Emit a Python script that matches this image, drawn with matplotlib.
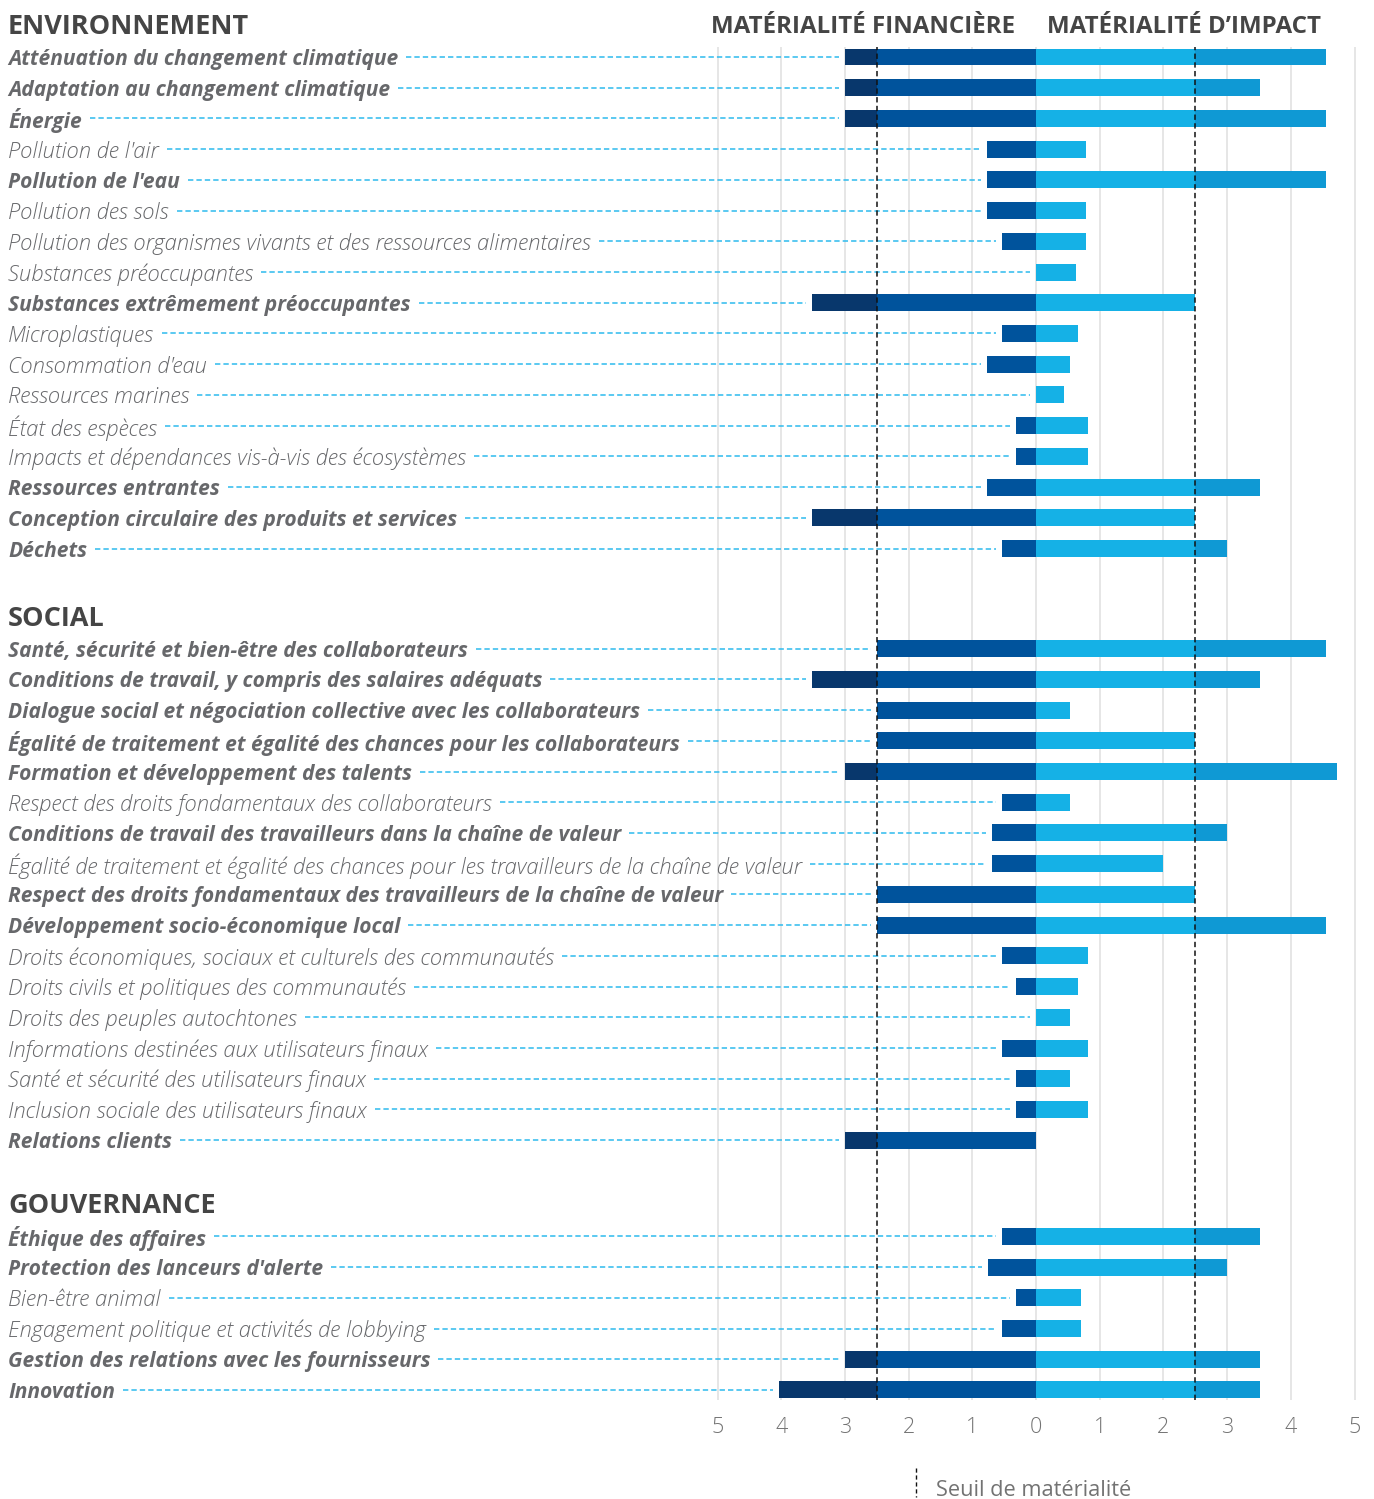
import matplotlib
matplotlib.use("Agg")
import matplotlib.pyplot as plt
from matplotlib import transforms

# ---------------- data ----------------
env_labels = [
    "Atténuation du changement climatique",
    "Adaptation au changement climatique",
    "Énergie",
    "Pollution de l'air",
    "Pollution de l'eau",
    "Pollution des sols",
    "Pollution des organismes vivants et des ressources alimentaires",
    "Substances préoccupantes",
    "Substances extrêmement préoccupantes",
    "Microplastiques",
    "Consommation d'eau",
    "Ressources marines",
    "État des espèces",
    "Impacts et dépendances vis-à-vis des écosystèmes",
    "Ressources entrantes",
    "Conception circulaire des produits et services",
    "Déchets",
]
env_fin = [3.0, 3.0, 3.0, 0.77, 0.77, 0.77, 0.53, 0.0, 3.52, 0.53, 0.77, 0.0, 0.31, 0.31, 0.77, 3.52, 0.53]
env_imp = [4.56, 3.52, 4.56, 0.78, 4.56, 0.78, 0.78, 0.63, 2.5, 0.66, 0.53, 0.44, 0.82, 0.82, 3.52, 2.5, 3.0]

soc_labels = [
    "Santé, sécurité et bien-être des collaborateurs",
    "Conditions de travail, y compris des salaires adéquats",
    "Dialogue social et négociation collective avec les collaborateurs",
    "Égalité de traitement et égalité des chances pour les collaborateurs",
    "Formation et développement des talents",
    "Respect des droits fondamentaux des collaborateurs",
    "Conditions de travail des travailleurs dans la chaîne de valeur",
    "Égalité de traitement et égalité des chances pour les travailleurs de la chaîne de valeur",
    "Respect des droits fondamentaux des travailleurs de la chaîne de valeur",
    "Développement socio-économique local",
    "Droits économiques, sociaux et culturels des communautés",
    "Droits civils et politiques des communautés",
    "Droits des peuples autochtones",
    "Informations destinées aux utilisateurs finaux",
    "Santé et sécurité des utilisateurs finaux",
    "Inclusion sociale des utilisateurs finaux",
    "Relations clients",
]
soc_fin = [2.5, 3.52, 2.5, 2.5, 3.0, 0.53, 0.69, 0.69, 2.5, 2.5, 0.53, 0.31, 0.0, 0.53, 0.31, 0.31, 3.0]
soc_imp = [4.56, 3.52, 0.53, 2.5, 4.72, 0.53, 3.0, 2.0, 2.5, 4.56, 0.82, 0.66, 0.53, 0.82, 0.53, 0.82, 0.0]

gov_labels = [
    "Éthique des affaires",
    "Protection des lanceurs d'alerte",
    "Bien-être animal",
    "Engagement politique et activités de lobbying",
    "Gestion des relations avec les fournisseurs",
    "Innovation",
]
gov_fin = [0.53, 0.76, 0.31, 0.53, 3.0, 4.03]
gov_imp = [3.52, 3.0, 0.71, 0.71, 3.52, 3.52]

group_titles = ["ENVIRONNEMENT", "SOCIAL", "GOUVERNANCE"]
threshold = 2.5
tick_values = [-5, -4, -3, -2, -1, 0, 1, 2, 3, 4, 5]
tick_labels = ["5", "4", "3", "2", "1", "0", "1", "2", "3", "4", "5"]

# ---------------- style ----------------
C_FIN_DARK = "#08376c"
C_FIN = "#00539c"
C_IMP = "#15b1e6"
C_IMP_DARK = "#0f99d4"
C_LEADER = "#2ebbee"
C_GRID = "#e6e6e6"
C_LABEL = "#67686b"
C_HEAD = "#454545"
FONT = "Open Sans"

W, H = 1374, 1499
DPI = 100
fig = plt.figure(figsize=(W / DPI, H / DPI), dpi=DPI)

row_px = 30.72
unit_px = 63.7
zero_px = 1036
first_row_px = 57
gap_rows = [3.26, 3.13]
bar_h = 0.553

groups = [(env_labels, env_fin, env_imp), (soc_labels, soc_fin, soc_imp), (gov_labels, gov_fin, gov_imp)]
positions = []
starts = []
pos = 0.0
for gi, (labs, f, im) in enumerate(groups):
    if gi > 0:
        pos += gap_rows[gi - 1]
    starts.append(pos)
    p = []
    for k in range(len(labs)):
        p.append(pos)
        pos += 1
    pos -= 1
    positions.append(p)

pad_rows = 0.33
y_top = -pad_rows
y_bot = positions[-1][-1] + pad_rows
ax_top_px = first_row_px - pad_rows * row_px
ax_h_px = (y_bot - y_top) * row_px
x_lo, x_hi = -5.25, 5.25
ax_left_px = zero_px + x_lo * unit_px
ax_w_px = (x_hi - x_lo) * unit_px
ax = fig.add_axes([ax_left_px / W, 1 - (ax_top_px + ax_h_px) / H, ax_w_px / W, ax_h_px / H])
ax.set_xlim(x_lo, x_hi)
ax.set_ylim(y_bot, y_top)
for s in ax.spines.values():
    s.set_visible(False)
ax.set_yticks([])
ax.set_xticks(tick_values)
ax.set_xticklabels(tick_labels, fontfamily=FONT, fontweight="light", fontsize=15.5, color="#737373")
ax.tick_params(axis="x", length=0, pad=12)

for v in tick_values:
    ax.axvline(v, color=C_GRID, lw=1.4, zorder=0)
for v in (-threshold, threshold):
    ax.axvline(v, color="#111111", lw=1.1, ls=(0, (3.5, 2.2)), zorder=5)

# bars
for (labs, fin, imp), ys in zip(groups, positions):
    for y, f, i in zip(ys, fin, imp):
        if f > 0:
            ax.barh(y, -min(f, threshold), height=bar_h, color=C_FIN, zorder=2, lw=0)
            if f > threshold:
                ax.barh(y, -(f - threshold), left=-threshold, height=bar_h, color=C_FIN_DARK, zorder=2, lw=0)
        if i > 0:
            ax.barh(y, min(i, threshold), height=bar_h, color=C_IMP, zorder=2, lw=0)
            if i > threshold:
                ax.barh(y, i - threshold, left=threshold, height=bar_h, color=C_IMP_DARK, zorder=2, lw=0)

# labels
blend = transforms.blended_transform_factory(fig.transFigure, ax.transData)
label_x = 8 / W
texts = []
for (labs, fin, imp), ys in zip(groups, positions):
    for lab, y, f, i in zip(labs, ys, fin, imp):
        bold = max(f, i) >= threshold
        t = ax.text(label_x, y, lab, transform=blend, ha="left", va="center_baseline",
                    fontfamily=FONT, fontstyle="italic",
                    fontweight="bold" if bold else "light",
                    fontsize=15.15 if bold else 15.85, color=C_LABEL, clip_on=False)
        texts.append((t, y, f))

for title, s in zip(group_titles, starts):
    ax.text(label_x, s - 1.07, title, transform=blend, ha="left", va="center_baseline",
            fontfamily=FONT, fontweight="bold", fontsize=19.5, color=C_HEAD, clip_on=False)

ax.text(-0.33, -1.07, "MATÉRIALITÉ FINANCIÈRE", ha="right", va="center_baseline",
        fontfamily=FONT, fontweight="bold", fontsize=17.35, color=C_HEAD, clip_on=False)
ax.text(0.17, -1.07, "MATÉRIALITÉ D\u2019IMPACT", ha="left", va="center_baseline",
        fontfamily=FONT, fontweight="bold", fontsize=17.35, color=C_HEAD, clip_on=False)

# leader lines
fig.canvas.draw()
r = fig.canvas.get_renderer()
inv = ax.transData.inverted()
for t, y, f in texts:
    bb = t.get_window_extent(renderer=r)
    x0 = inv.transform((bb.x1 + 8, 0))[0]
    x1 = -f - 6 / unit_px
    ax.plot([x0, x1], [y, y], color=C_LEADER, lw=1.1, ls=(0, (3.5, 2)), zorder=1,
            clip_on=False, solid_capstyle="butt", dash_capstyle="butt")

# legend
lx = 916 / W
fig.add_artist(plt.Line2D([lx, lx], [1 - 1468 / H, 1 - 1497 / H], transform=fig.transFigure,
                          color="#111111", lw=1.0, ls=(0, (3, 2))))
fig.text(936 / W, 1 - 1488 / H, "Seuil de matérialité", ha="left", va="center_baseline",
         fontfamily=FONT, fontsize=15.7, color="#737373")

fig.savefig("out.png", dpi=DPI)
